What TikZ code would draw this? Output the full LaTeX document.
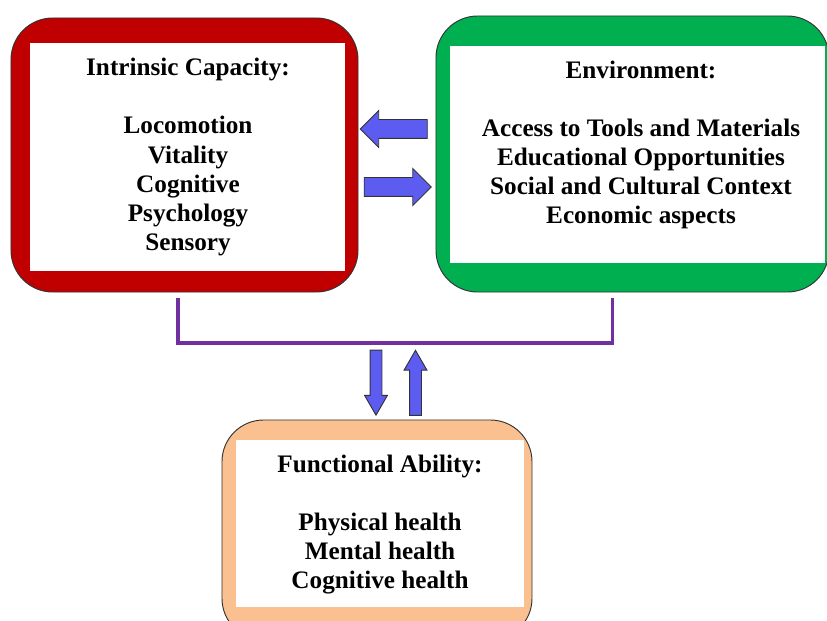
\documentclass[tikz,border=0pt]{standalone}
\usepackage{fontspec}
\setmainfont{Liberation Serif}
\usepackage{tikz}
\usepackage{xcolor}
\usetikzlibrary{shapes.arrows, positioning, calc}

\definecolor{capred}{HTML}{C00000}
\definecolor{envgreen}{HTML}{00B050}
\definecolor{ablpeach}{HTML}{FAC090}
\definecolor{joinpurple}{HTML}{7030A0}
\definecolor{arrowblue}{HTML}{5C5CF0}

\begin{document}
\begin{tikzpicture}[x=0.03cm, y=-0.03cm,
    frame/.style={draw=black!80, line width=0.8pt, rounded corners=1.25cm, inner sep=0pt},
    panel/.style={fill=white, inner sep=0pt},
    boxtext/.style={align=center, font=\bfseries\fontsize{21.5}{24.8}\selectfont},
    widearrow/.style={single arrow, draw=black!80, line width=0.8pt, fill=arrowblue,
        inner xsep=0pt, inner ysep=0.27cm, minimum height=2.01cm, single arrow head extend=0.27cm},
    slimarrow/.style={single arrow, draw=black!80, line width=0.8pt, fill=arrowblue,
        inner xsep=0pt, inner ysep=0.165cm, minimum height=1.95cm, single arrow head extend=0.165cm,
        single arrow tip angle=60},
    bracketline/.style={draw=joinpurple, line width=3.4pt}]
    \useasboundingbox (0,0) rectangle (827,621);

    % the three boxes
    \node[frame, fill=capred, minimum width=10.41cm, minimum height=8.22cm] (capframe) at (184.5,155) {};
    \node[panel, minimum width=9.45cm, minimum height=6.84cm] (cappanel) at (187.5,157) {};
    \node[boxtext] (cap) at (188,157) {Intrinsic Capacity:\\[24.8pt]
        Locomotion\\ Vitality\\ Cognitive\\ Psychology\\ Sensory};

    \node[frame, fill=envgreen, minimum width=11.79cm, minimum height=8.28cm] (envframe) at (632.5,154) {};
    \node[panel, minimum width=11.25cm, minimum height=6.51cm] (envpanel) at (637.5,154.5) {};
    \node[boxtext] (env) at (641,145) {Environment:\\[24.8pt]
        Access to Tools and Materials\\ Educational Opportunities\\
        Social and Cultural Context\\ Economic aspects};

    \node[frame, fill=ablpeach, minimum width=9.3cm, minimum height=6.6cm] (ablframe) at (377,530) {};
    \node[panel, minimum width=8.64cm, minimum height=5.01cm] (ablpanel) at (380,523.5) {};
    \node[boxtext] (abl) at (380,524.5) {Functional Ability:\\[24.8pt]
        Physical health\\ Mental health\\ Cognitive health};

    % block arrows between the boxes
    \node[widearrow, rotate=180] (tocap) at (398.5,129) {};
    \node[widearrow] (toenv) at (393,187) {};
    \node[slimarrow, rotate=-90] (toabl) at (376,377.5) {};
    \node[slimarrow, rotate=90] (fromabl) at (415.5,388) {};

    % bracket joining capacity and environment
    \draw[bracketline] ([xshift=-0.2cm,yshift=-0.18cm]capframe.south) -- ++(0,45)
        -| ([xshift=-0.6cm,yshift=-0.18cm]envframe.south);
\end{tikzpicture}
\end{document}
